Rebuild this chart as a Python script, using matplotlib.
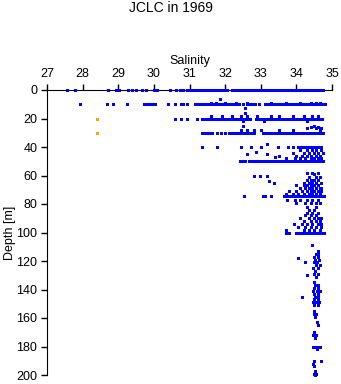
import numpy as np
import matplotlib.pyplot as plt

plt.rcParams["font.family"] = ["Liberation Sans", "DejaVu Sans"]

# salinity readings on the standard sampling depths
sal_0 = [27.57, 27.79, 28.72, 28.93, 29.03, 29.28, 29.38, 29.5, 29.68, 29.78,
         30.0, 30.08, 30.45, 30.62, 30.72, 30.83, 30.92, 31.0, 31.06, 31.12,
         31.2, 31.27, 31.35, 31.43, 31.5, 31.58, 31.66, 31.74, 31.82, 31.9,
         31.97, 32.04, 32.18, 32.25, 32.33, 32.4, 32.48, 32.56, 32.64, 32.72,
         32.8, 32.88, 32.95, 33.03, 33.1, 33.18, 33.26, 33.34, 33.42, 33.5,
         33.58, 33.65, 33.73, 33.8, 33.88, 33.96, 34.04, 34.12, 34.2, 34.28,
         34.36, 34.44, 34.52, 34.6, 34.68, 34.76]
sal_10 = [27.93, 28.68, 28.85, 29.25, 29.72, 29.8, 29.88, 29.96, 30.03, 30.4,
          30.6, 30.75, 30.82, 30.93, 31.15, 31.22, 31.3, 31.38, 31.46, 31.53,
          31.6, 31.68, 31.76, 31.84, 31.92, 32.0, 32.08, 32.16, 32.24, 32.32,
          32.4, 32.5, 32.6, 32.68, 32.76, 32.84, 32.94, 33.12, 33.2, 33.28,
          33.36, 33.44, 33.52, 33.6, 33.68, 33.76, 33.84, 33.92, 34.0, 34.08,
          34.16, 34.24, 34.32, 34.4, 34.48, 34.56, 34.64, 34.72, 34.79]
sal_20 = [30.6, 30.75, 30.93, 31.2, 31.35, 31.42, 31.5, 31.58, 31.66, 31.74,
          31.82, 31.9, 31.98, 32.06, 32.14, 32.22, 32.3, 32.38, 32.46, 32.54,
          32.62, 32.7, 32.88, 32.96, 33.04, 33.12, 33.2, 33.28, 33.36, 33.44,
          33.52, 33.6, 33.68, 33.76, 33.84, 33.92, 34.0, 34.08, 34.16, 34.24,
          34.32, 34.4, 34.48, 34.56, 34.64, 34.72]
sal_30 = [31.35, 31.43, 31.5, 31.58, 31.64, 31.76, 31.88, 32.0, 32.1, 32.18,
          32.26, 32.34, 32.42, 32.5, 32.58, 32.66, 32.74, 32.82, 33.06, 33.14,
          33.22, 33.3, 33.38, 33.46, 33.54, 33.62, 33.7, 33.78, 33.86, 33.94,
          34.02, 34.1, 34.18, 34.26, 34.34, 34.42, 34.5, 34.58, 34.66, 34.74]
sal_40 = [31.34, 31.76, 32.45, 32.72, 33.0, 33.48, 33.77, 33.9, 34.05, 34.12,
          34.2, 34.28, 34.36, 34.44, 34.52, 34.6, 34.68]
sal_50 = [32.42, 32.5, 32.56, 32.66, 32.74, 32.82, 32.9, 32.98, 33.06, 33.15,
          33.23, 33.31, 33.39, 33.47, 33.55, 33.63, 33.71, 33.79, 33.87, 33.95,
          34.03, 34.11, 34.19, 34.27, 34.35, 34.43, 34.51, 34.59, 34.67, 34.75]
sal_75 = [32.53, 33.06, 33.12, 33.28, 33.65, 33.73, 33.81, 33.89, 33.97,
          34.05, 34.13, 34.21, 34.29, 34.37, 34.45, 34.53, 34.61, 34.69, 34.78]
sal_100 = [33.72, 33.8, 34.0, 34.08, 34.16, 34.24, 34.32, 34.4, 34.48, 34.56,
           34.64, 34.72, 34.78]

# off-standard depths in the upper layer: (depth, salinities)
upper_extra = [
    (6.5, [31.86]), (9, [31.6, 31.75, 32.0, 32.3, 32.6, 33.3, 33.7, 34.1, 34.4, 34.55, 34.65]),
    (12.4, [32.56]), (16, [32.56]),
    (18, [31.6, 31.9, 32.2, 32.45, 32.6, 32.9, 33.3, 33.5, 33.9, 34.2, 34.45, 34.6]),
    (22, [32.5, 33.1, 34.3]), (25, [32.5, 34.5]), (26, [34.4, 34.6]),
    (27, [34.3, 34.55, 34.7]), (28, [32.45, 32.6, 32.8, 33.0, 33.5, 33.9, 34.65]),
    (38, [33.18]), (42, [34.1, 34.3, 34.45, 34.55, 34.7]),
    (43.5, [32.87]), (44, [33.9, 34.2, 34.35, 34.5, 34.6, 34.75]),
    (45, [32.6, 33.18]), (46, [33.5, 34.0, 34.15, 34.3, 34.4, 34.55, 34.65]),
    (47, [33.4]), (48, [33.7, 33.95, 34.1, 34.25, 34.4, 34.5, 34.6, 34.7]),
]

# mid layer 55-100 m
mid_extra = [
    (58, [34.3, 34.45, 34.6]), (59, [34.5]), (60, [32.8, 32.97, 33.17]),
    (61, [34.35, 34.55, 34.65]), (63, [34.3, 34.4, 34.5, 34.6]), (64, [33.23]),
    (65, [34.2, 34.35, 34.45, 34.55, 34.7]), (65.5, [33.38]),
    (67, [34.0, 34.2, 34.3, 34.4, 34.5, 34.6]),
    (69, [34.1, 34.25, 34.35, 34.45, 34.55, 34.65, 34.7]),
    (71, [33.8, 34.0, 34.15, 34.3, 34.4, 34.5, 34.6, 34.7]),
    (73, [33.7, 33.9, 34.05, 34.2, 34.35, 34.45, 34.55, 34.65]),
    (77, [33.75, 33.95, 34.1, 34.3, 34.45, 34.6]),
    (79, [34.0, 34.25, 34.4, 34.55, 34.65]), (82, [34.3, 34.55]),
    (84, [34.35, 34.5]), (86, [34.3, 34.45, 34.6]), (88, [34.25, 34.4, 34.55]),
    (90, [34.1, 34.35, 34.5, 34.6, 34.7]), (92, [34.2, 34.4, 34.55, 34.65]),
    (94, [33.92, 34.15, 34.3, 34.45, 34.6, 34.7]),
    (96, [34.05, 34.25, 34.4, 34.55, 34.7]), (98, [33.7, 34.2, 34.35, 34.5, 34.65]),
]

# deep layer below 100 m
deep_extra = [
    (109, [34.43]), (113, [34.6]), (115, [34.55, 34.62]), (117, [34.5, 34.6]),
    (118, [34.05]), (119, [34.52, 34.64]), (120.5, [34.24]), (121, [34.5, 34.58]),
    (123, [34.55, 34.66]), (125, [34.48, 34.6]), (127, [34.52]),
    (129, [34.5, 34.62]), (130, [34.3]), (131, [34.55]),
    (135, [34.5]), (137, [34.52, 34.6]), (139, [34.5, 34.62]),
    (141, [34.48, 34.58, 34.66]), (143, [34.5, 34.6]), (145, [34.17, 34.52, 34.62]),
    (147, [34.5, 34.6]), (149, [34.46, 34.55, 34.64]), (151, [34.5, 34.6]),
    (155, [34.5]), (157, [34.5, 34.55]), (159, [34.52]), (163, [34.58]),
    (165, [34.6]), (170, [34.5]), (172, [34.48, 34.55]), (174, [34.52]),
    (180, [34.46, 34.52, 34.6, 34.66]), (182, [34.58]),
    (190, [34.5, 34.7]), (192, [34.48]), (194, [34.5]), (197, [34.52]),
    (199, [34.5, 34.56]), (200, [34.53]),
]

# the odd low-salinity samples (orange)
odd_sal = [28.39, 28.41]
odd_depth = [20.5, 30.4]

rows = [(0, sal_0), (10, sal_10), (20, sal_20), (30, sal_30), (40, sal_40),
        (50, sal_50), (74.5, sal_75), (100, sal_100)]
sal, dep = [], []
for d, vals in rows + upper_extra + mid_extra + deep_extra:
    sal += vals
    dep += [d] * len(vals)
sal = np.array(sal)
dep = np.array(dep)

fig = plt.figure(figsize=(3.41, 3.84), dpi=100)
ax = fig.add_axes([47 / 341, 9 / 384, 285 / 341, 285 / 384])

mk = dict(ms=2.16, mew=0, clip_on=False, zorder=3, antialiased=False)
ax.plot(sal, dep, "s", color="#0000ff", **mk)
ax.plot(odd_sal, odd_depth, "s", color="#ffa500", **mk)

ax.set_xlim(27, 35)
ax.set_ylim(200, 0)
ax.set_xticks(np.arange(27, 36, 1))
ax.set_yticks(np.arange(0, 201, 20))
ax.xaxis.tick_top()
ax.xaxis.set_label_position("top")
ax.set_xlabel("Salinity", fontsize=9, labelpad=3)
ax.set_ylabel("Depth [m]", fontsize=9)
ax.yaxis.set_label_coords(-0.11, 0.5)
for s in ["bottom", "right"]:
    ax.spines[s].set_visible(False)
ax.tick_params(direction="out", length=4, width=1, labelsize=9, pad=3)

fig.text(0.5, 1 - 8 / 384, "JCLC in 1969", ha="center", va="center", fontsize=10)

fig.savefig("out.png", dpi=100)
